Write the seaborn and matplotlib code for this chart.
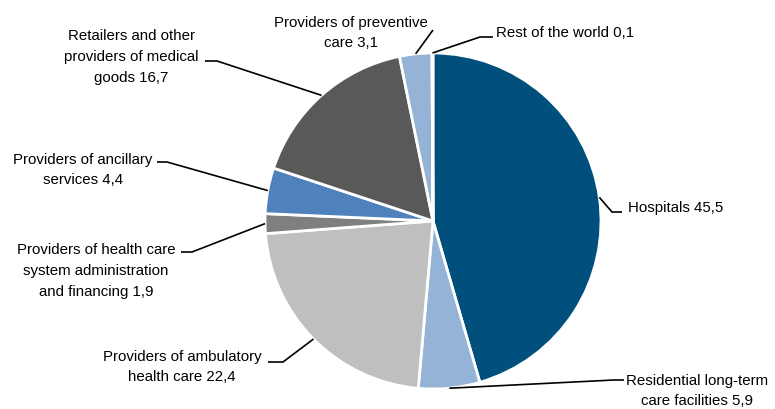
import numpy as np
import matplotlib
matplotlib.use("Agg")
import matplotlib.pyplot as plt
import seaborn as sns

sns.set_theme(style="white")
plt.rcParams['font.family'] = ['Liberation Sans', 'DejaVu Sans']

# Data
categories = ["Hospitals",
              "Residential long-term\ncare facilities",
              "Providers of ambulatory\nhealth care",
              "Providers of health care\nsystem administration\nand financing",
              "Providers of ancillary\nservices",
              "Retailers and other\nproviders of medical\ngoods",
              "Providers of preventive\ncare",
              "Rest of the world"]
values = [45.5, 5.9, 22.4, 1.9, 4.4, 16.7, 3.1, 0.1]
value_labels = ["45,5", "5,9", "22,4", "1,9", "4,4", "16,7", "3,1", "0,1"]
colors = ["#004F7C", "#95B3D7", "#BFBFBF", "#7F7F7F",
          "#4F81BD", "#595959", "#95B3D7", "#1F3F60"]

# layout (pixels in the 775x410 picture)
CX, CY, R = 433, 222, 168
W, H = 775, 410

# text position, alignment, elbow point, line end point
label_layout = [
    ((628, 208), "left", (612, 213), (622, 213)),
    ((697, 391), "center", (614, 381), (624, 381)),
    ((182, 367), "center", (283, 363), (268, 363)),
    ((96, 271), "center", (192, 253), (181, 253)),
    ((83, 170), "center", (167, 163), (157, 163)),
    ((131, 57), "center", (217, 62), (205, 62)),
    ((351, 33), "center", (433, 31), (433, 31)),
    ((496, 33), "left", (480, 38), (493, 38)),
]


def px(x, y):
    return (x - CX) / R, (CY - y) / R


fig = plt.figure(figsize=(7.75, 4.1), dpi=100)
ax = fig.add_axes([0, 0, 1, 1])

wedges, _ = ax.pie(values, colors=colors, startangle=90, counterclock=False,
                   radius=1, wedgeprops=dict(edgecolor="white", linewidth=2))

for w, cat, val, (tpos, ha, elbow, end) in zip(wedges, categories, value_labels, label_layout):
    mid = np.deg2rad((w.theta1 + w.theta2) / 2)
    anchor = (np.cos(mid), np.sin(mid))
    ex, ey = px(*elbow)
    nx, ny = px(*end)
    ax.plot([anchor[0], ex, nx], [anchor[1], ey, ny], color="black", lw=1.2,
            solid_capstyle="butt", zorder=3)
    tx, ty = px(*tpos)
    ax.text(tx, ty, f"{cat} {val}", ha=ha, va="center", multialignment="center",
            fontsize=10.8, linespacing=1.6, color="black")

ax.set_xlim(-CX / R, (W - CX) / R)
ax.set_ylim((CY - H) / R, CY / R)
ax.set_aspect("equal")
ax.axis("off")

fig.savefig("out.png", dpi=100)
